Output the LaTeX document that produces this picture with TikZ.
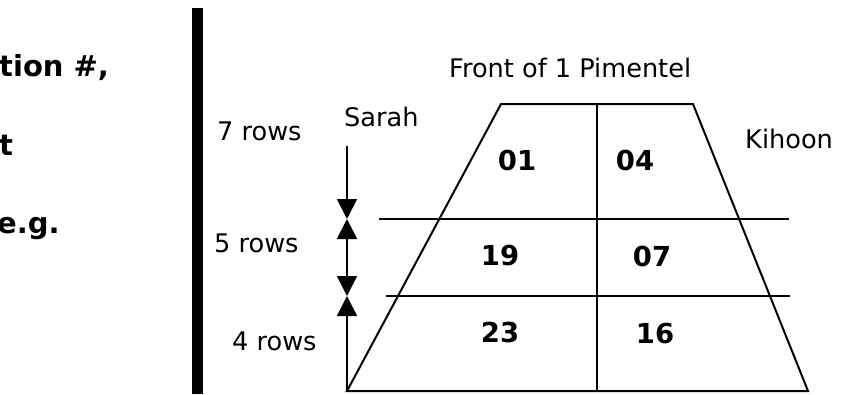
\documentclass[tikz,border=0pt]{standalone}
\usepackage{fontspec}
\setmainfont{DejaVu Sans}
\usetikzlibrary{arrows.meta}
\begin{document}
\begin{tikzpicture}[x=1pt,y=-1pt,
  lbl/.style={anchor=base west,inner sep=0pt,font=\fontsize{25.6}{30}\selectfont},
  side/.style={anchor=base west,inner sep=0pt,font=\fontsize{29}{34}\selectfont\bfseries},
  seat/.style={anchor=center,inner sep=0pt,font=\fontsize{27.5}{32}\selectfont\bfseries},
  edge/.style={line width=2pt},
  tip/.style={-{Triangle[width=20pt,length=20pt]}},
  lineonly/.style={line width=1.8pt}]
\useasboundingbox (0,0) rectangle (851,394);
% left clipped text
\node[side] (s1) at (-1,76) {tion \#,};
\node[side] (s2) at (-1,155) {t};
\node[side] (s3) at (-3,233) {e.g.};
% black bar
\fill (192,8) rectangle (203,394);
% trapezoid corners
\coordinate (bl) at (347,391);
\coordinate (tl) at (501,104);
\coordinate (tr) at (693,104);
\coordinate (br) at (808,391);
\coordinate (mt) at (597,104);
\coordinate (mb) at (597,391);
\coordinate (r1a) at (379,219);
\coordinate (r1b) at (789,219);
\coordinate (r2a) at (386,296);
\coordinate (r2b) at (790,296);
\draw[edge,line join=miter] (bl) -- (tl) -- (tr) -- (br) -- cycle;
\draw[edge] (mt) -- (mb);
\draw[edge] (r1a) -- (r1b);
\draw[edge] (r2a) -- (r2b);
% arrows
\coordinate (a0) at (347,146);
\coordinate (a1) at (347,219);
\coordinate (a2) at (347,296);
\draw[lineonly,tip] (a0) -- (a1);
\draw[lineonly,{Triangle[width=20pt,length=20pt]}-{Triangle[width=20pt,length=20pt]}] (a1) -- (a2);
\draw[lineonly,tip] (bl) -- (a2);
% labels
\node[lbl] (front) at (449,77) {Front of 1 Pimentel};
\node[lbl] (sarah) at (344,126) {Sarah};
\node[lbl] (kihoon) at (745,148) {Kihoon};
\node[lbl] (r7) at (217,140) {7 rows};
\node[lbl] (r5) at (214,252) {5 rows};
\node[lbl] (r4) at (232,350) {4 rows};
% seats
\node[seat] (n01) at (517,160) {01};
\node[seat] (n04) at (635,160) {04};
\node[seat] (n19) at (500,255) {19};
\node[seat] (n07) at (652,256) {07};
\node[seat] (n23) at (500,332) {23};
\node[seat] (n16) at (655,333) {16};
\end{tikzpicture}
\end{document}
